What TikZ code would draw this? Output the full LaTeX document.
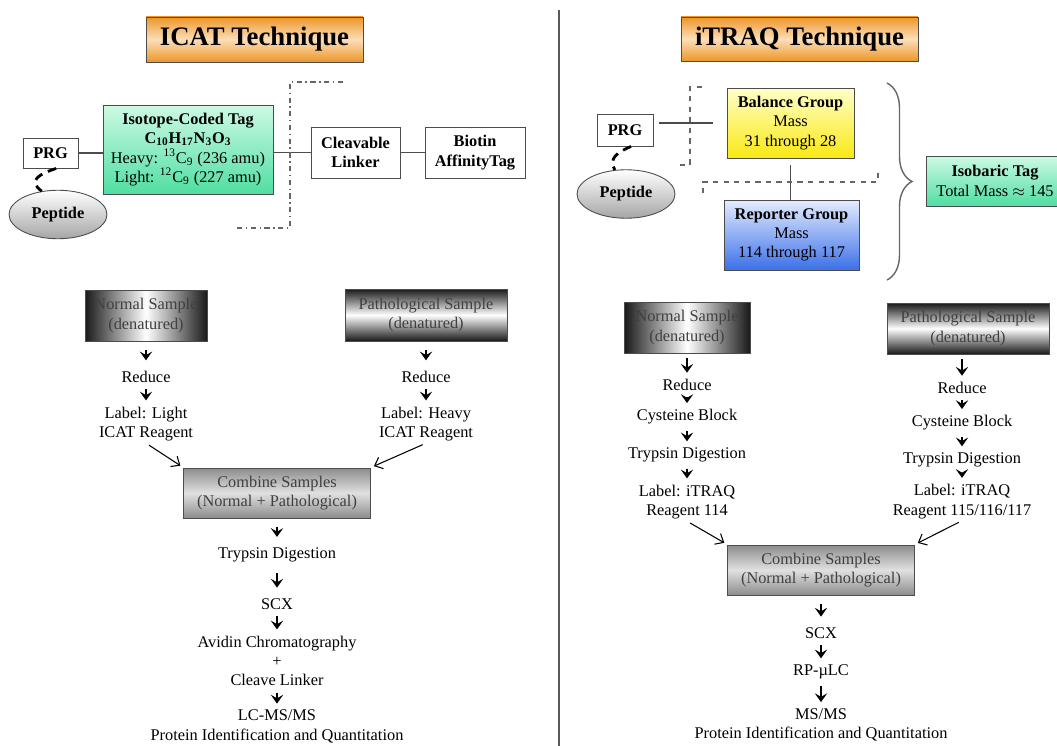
\documentclass[tikz,border=0pt]{standalone}
\usepackage{fontspec}
\setmainfont{Liberation Serif}
\usepackage{tikz}
\usetikzlibrary{arrows.meta,%
                shapes.geometric,%
                decorations.pathreplacing}

\definecolor{ttlorange}{RGB}{236,150,40}
\definecolor{ttllight}{RGB}{252,222,185}
\definecolor{tagtop}{RGB}{205,250,228}
\definecolor{tagbot}{RGB}{80,222,162}
\definecolor{baltop}{RGB}{255,255,200}
\definecolor{balbot}{RGB}{250,232,20}
\definecolor{reptop}{RGB}{228,236,255}
\definecolor{repbot}{RGB}{60,112,232}

\begin{document}
\begin{tikzpicture}[x=0.02cm,y=-0.02cm,
  font=\fontsize{9.3}{11}\selectfont,
  box/.style={draw=black!70,line width=0.5pt,align=center,inner sep=1pt},
  ttl/.style={box,font=\fontsize{15.2}{17}\selectfont\bfseries,
    top color=ttlorange,bottom color=ttlorange,middle color=ttllight},
  wbox/.style={box,fill=white,font=\fontsize{9.3}{11}\selectfont\bfseries},
  smpl/.style={box,text=black!75},
  pep/.style={ellipse,draw=black!70,line width=0.5pt,top color=white,
    bottom color=black!35,font=\fontsize{9.3}{11}\selectfont\bfseries,
    minimum width=1.96cm,minimum height=0.97cm,inner sep=0pt},
  comb/.style={box,text=black!75,top color=black!45,bottom color=black!45,
    middle color=black!12,minimum width=3.73cm,minimum height=1cm},
  stage/.style={align=center,inner sep=1pt},
  flo/.style={-{Stealth[length=5pt,width=7pt,inset=2pt]},line width=1.1pt,
    shorten <=2.5pt,shorten >=2.5pt},
  lng/.style={shorten <=5pt,shorten >=5pt},
  merge/.style={-{Straight Barb[length=4pt,width=7pt]},line width=0.6pt,
    shorten <=2pt,shorten >=2pt},
  lnk/.style={black!70,line width=0.6pt},
  curl/.style={line width=1.6pt,dash pattern=on 5pt off 3.5pt},
  brc/.style={decorate,decoration={brace,amplitude=0.5cm},black!60,line width=0.8pt}]

  \useasboundingbox (0,0) rectangle (1057,746);

  \coordinate (divT) at (559,10);
  \coordinate (divB) at (559,746);
  \draw[black!65,line width=1.2pt] (divT) -- (divB);

  \node[ttl,minimum width=4.34cm,minimum height=0.9cm] (icat) at (254.5,39.5) {ICAT Technique};
  \node[wbox,minimum width=1.1cm,minimum height=0.6cm] (prgL) at (50.5,153) {PRG};
  \node[box,top color=tagtop,bottom color=tagbot,minimum width=3.4cm,minimum height=1.78cm] (tagL) at (188,149.5)
    {\textbf{Isotope-Coded Tag}\\
     \textbf{C\textsubscript{10}H\textsubscript{17}N\textsubscript{3}O\textsubscript{3}}\\
     Heavy: \textsuperscript{13}C\textsubscript{9} (236 amu)\\
     Light: \textsuperscript{12}C\textsubscript{9} (227 amu)};
  \node[wbox,minimum width=1.78cm,minimum height=1.02cm] (linkL) at (355.5,152.5) {Cleavable\\Linker};
  \node[wbox,minimum width=2cm,minimum height=1.02cm] (biotinL) at (475,152.5) {Biotin\\AffinityTag};
  \node[pep] (pepL) at (58,214.5) {Peptide};

  \coordinate (ddA) at (343,82);
  \coordinate (ddB) at (290,82);
  \coordinate (ddC) at (290,228);
  \coordinate (ddD) at (237,228);

  \draw[lnk] (prgL.east) -- (prgL.east -| tagL.west);
  \draw[lnk] (tagL.east |- linkL.west) -- (linkL.west);
  \draw[lnk] (linkL) -- (biotinL);
  \draw[black!60,line width=0.8pt,dash dot] (ddA) -- (ddB) -- (ddC) -- (ddD);
  \draw[curl] (prgL.290) .. controls (40,174) and (27,180) .. (pepL.125);

  \node[smpl,left color=black!90,right color=black!90,middle color=white,
    minimum width=2.44cm,minimum height=1.02cm] (normL) at (146,315.5) {Normal Sample\\(denatured)};
  \node[smpl,top color=black!90,bottom color=black!90,middle color=white,
    minimum width=3.24cm,minimum height=1.04cm] (pathL) at (426,315) {Pathological Sample\\(denatured)};
  \node[stage] (rdL1) at (146,377) {Reduce};
  \node[stage] (lbL1) at (146,424) {Label: Light\\ICAT Reagent};
  \node[stage] (rdL2) at (426,377) {Reduce};
  \node[stage] (lbL2) at (426,424) {Label: Heavy\\ICAT Reagent};
  \node[comb] (combL) at (277,493) {Combine Samples\\(Normal + Pathological)};
  \node[stage] (trypL) at (277,555) {Trypsin Digestion};
  \node[stage] (scxL) at (277,604) {SCX};
  \node[stage] (avL) at (277,661) {Avidin Chromatography\\+\\Cleave Linker};
  \node[stage] (finL) at (277,726.5) {LC-MS/MS\\Protein Identification and Quantitation};

  \draw[flo,lng] (normL) -- (rdL1);
  \draw[flo] (rdL1) -- (lbL1);
  \draw[flo,lng] (pathL) -- (rdL2);
  \draw[flo] (rdL2) -- (lbL2);
  \draw[merge] (lbL1.south) -- (combL.north west);
  \draw[merge] (lbL2.south) -- (combL.north east);
  \draw[flo,lng] (combL) -- (trypL);
  \draw[flo,lng] (trypL) -- (scxL);
  \draw[flo] (scxL) -- (avL);
  \draw[flo] (avL) -- (finL);

  \node[ttl,minimum width=4.74cm,minimum height=0.88cm] (itraq) at (799.5,39) {iTRAQ Technique};
  \node[wbox,minimum width=1.12cm,minimum height=0.64cm] (prgR) at (625,130) {PRG};
  \node[box,top color=baltop,bottom color=balbot,minimum width=2.54cm,minimum height=1.4cm] (balR) at (790.5,123)
    {\textbf{Balance Group}\\Mass\\31 through 28};
  \node[box,top color=reptop,bottom color=repbot,minimum width=2.7cm,minimum height=1.4cm] (repR) at (791.5,235)
    {\textbf{Reporter Group}\\Mass\\114 through 117};
  \node[pep] (pepR) at (626,194) {Peptide};
  \node[box,top color=tagtop,bottom color=tagbot,minimum width=2.76cm,minimum height=1cm] (isoR) at (995,181)
    {\textbf{Isobaric Tag}\\Total Mass $\approx$ 145};

  \coordinate (dsA) at (702,87);
  \coordinate (dsB) at (690,87);
  \coordinate (dsC) at (690,165);
  \coordinate (dsD) at (678,165);
  \coordinate (dsE) at (703,193);
  \coordinate (dsF) at (703,182);
  \coordinate (dsG) at (878,182);
  \coordinate (dsH) at (878,171);
  \coordinate (brT) at (887,83);
  \coordinate (brB) at (887,280);

  \draw[lnk,shorten <=3pt,shorten >=8pt] (prgR.east |- balR.west) -- (balR.west);
  \draw[lnk,shorten <=4pt] (balR.south) -- (balR.south |- repR.north);
  \draw[black!60,line width=0.8pt,dashed] (dsA) -- (dsB) -- (dsC) -- (dsD);
  \draw[black!60,line width=0.8pt,dashed] (dsE) -- (dsF) -- (dsG) -- (dsH);
  \draw[curl] (prgR.290) .. controls (618,152) and (608,158) .. (pepR.115);
  \draw[brc] (brT) -- (brB);

  \node[smpl,left color=black!90,right color=black!90,middle color=white,
    minimum width=2.52cm,minimum height=1.02cm] (normR) at (687,327.5) {Normal Sample\\(denatured)};
  \node[smpl,top color=black!90,bottom color=black!90,middle color=white,
    minimum width=3.24cm,minimum height=1.02cm] (pathR) at (968,328.5) {Pathological Sample\\(denatured)};
  \node[stage] (rdR1) at (687,385) {Reduce};
  \node[stage] (cyR1) at (687,417) {Cysteine Block};
  \node[stage] (trR1) at (687,455) {Trypsin Digestion};
  \node[stage] (lbR1) at (687,502) {Label: iTRAQ\\Reagent 114};
  \node[stage] (rdR2) at (962,388) {Reduce};
  \node[stage] (cyR2) at (962,423) {Cysteine Block};
  \node[stage] (trR2) at (962,460) {Trypsin Digestion};
  \node[stage] (lbR2) at (962,501.5) {Label: iTRAQ\\Reagent 115/116/117};
  \node[comb] (combR) at (821,570) {Combine Samples\\(Normal + Pathological)};
  \node[stage] (scxR) at (821,633) {SCX};
  \node[stage] (rpR) at (821,672) {RP-µLC};
  \node[stage] (finR) at (821,725) {MS/MS\\Protein Identification and Quantitation};

  \draw[flo] (normR) -- (rdR1);
  \draw[flo] (rdR1) -- (cyR1);
  \draw[flo] (cyR1) -- (trR1);
  \draw[flo] (trR1) -- (lbR1);
  \draw[flo] (pathR.south -| rdR2) -- (rdR2);
  \draw[flo] (rdR2) -- (cyR2);
  \draw[flo] (cyR2) -- (trR2);
  \draw[flo] (trR2) -- (lbR2);
  \draw[merge] (lbR1.south) -- (combR.north west);
  \draw[merge] (lbR2.south) -- (combR.north east);
  \draw[flo,lng] (combR) -- (scxR);
  \draw[flo] (scxR) -- (rpR);
  \draw[flo] (rpR) -- (finR);

\end{tikzpicture}
\end{document}
